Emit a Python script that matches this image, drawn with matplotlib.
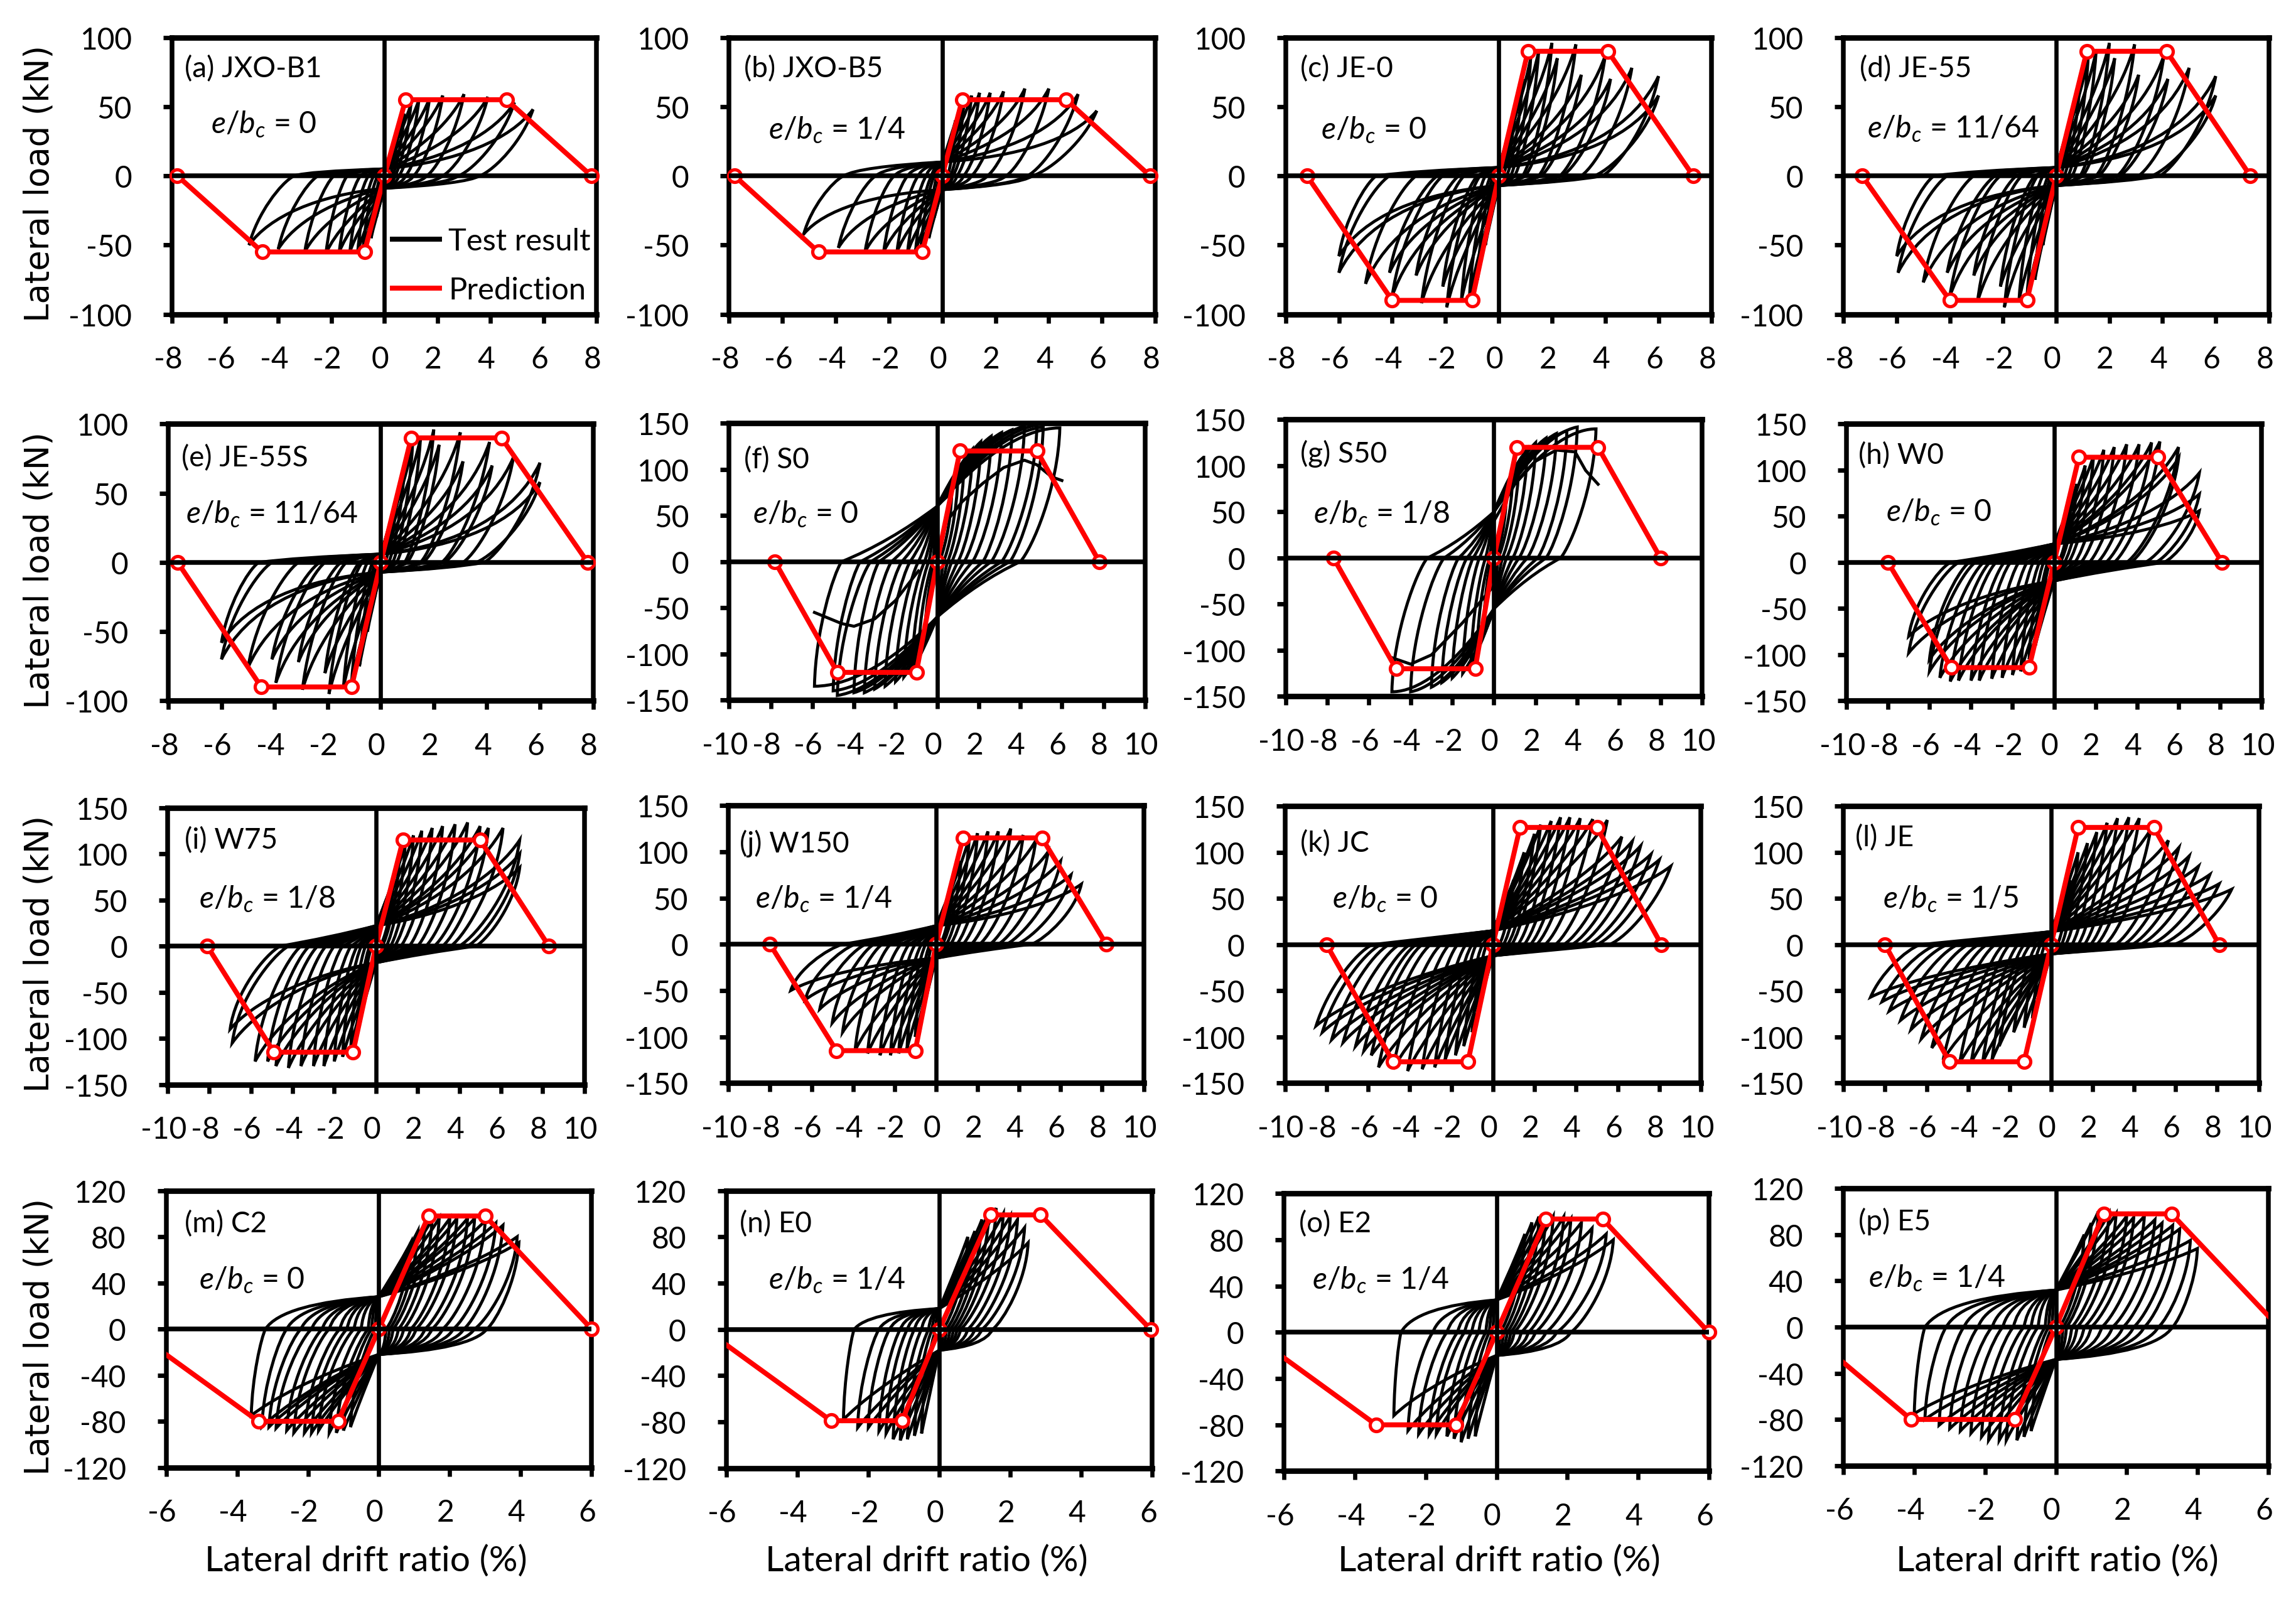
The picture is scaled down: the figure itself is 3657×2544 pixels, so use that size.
import matplotlib
matplotlib.use('Agg')
import matplotlib.pyplot as plt
from matplotlib.path import Path
from matplotlib.patches import PathPatch
from matplotlib.lines import Line2D
from matplotlib.transforms import ScaledTranslation

plt.rcParams['font.family'] = ['Lato', 'DejaVu Sans']
plt.rcParams['mathtext.fontset'] = 'custom'
plt.rcParams['mathtext.rm'] = 'Lato'
plt.rcParams['mathtext.it'] = 'Lato:italic'
plt.rcParams['axes.unicode_minus'] = False

titles = ['(a) JXO-B1', '(b) JXO-B5', '(c) JE-0', '(d) JE-55', '(e) JE-55S', '(f) S0', '(g) S50', '(h) W0',
          '(i) W75', '(j) W150', '(k) JC', '(l) JE', '(m) C2', '(n) E0', '(o) E2', '(p) E5']
ratios = ['0', '1/4', '0', '11/64', '11/64', '0', '1/8', '0', '1/8', '1/4', '0', '1/5', '0', '1/4', '1/4', '1/4']

xticks_8 = [-8, -6, -4, -2, 0, 2, 4, 6, 8]
xticks_10 = [-10, -8, -6, -4, -2, 0, 2, 4, 6, 8, 10]
xticks_6 = [-6, -4, -2, 0, 2, 4, 6]
yticks_100 = [-100, -50, 0, 50, 100]
yticks_150 = [-150, -100, -50, 0, 50, 100, 150]
yticks_120 = [-120, -80, -40, 0, 40, 80, 120]

# prediction polylines
a_pred_x = [-7.8, -4.6, -0.75, 0, 0.8, 4.6, 7.8]
a_pred_y = [0, -55, -55, 0, 55, 55, 0]
b_pred_x = [-7.8, -4.65, -0.75, 0, 0.75, 4.65, 7.8]
b_pred_y = [0, -55, -55, 0, 55, 55, 0]
c_pred_x = [-7.2, -4.0, -1.0, 0, 1.1, 4.1, 7.3]
c_pred_y = [0, -90, -90, 0, 90, 90, 0]
d_pred_x = [-7.3, -4.0, -1.1, 0, 1.15, 4.15, 7.3]
d_pred_y = [0, -90, -90, 0, 90, 90, 0]
e_pred_x = [-7.65, -4.5, -1.1, 0, 1.15, 4.55, 7.8]
e_pred_y = [0, -90, -90, 0, 90, 90, 0]
f_pred_x = [-7.8, -4.8, -1.0, 0, 1.1, 4.8, 7.8]
f_pred_y = [0, -120, -120, 0, 120, 120, 0]
g_pred_x = [-7.7, -4.7, -0.9, 0, 1.1, 5.0, 8.0]
g_pred_y = [0, -120, -120, 0, 120, 120, 0]
h_pred_x = [-8.0, -4.95, -1.2, 0, 1.2, 5.0, 8.1]
h_pred_y = [0, -114, -114, 0, 114, 114, 0]
i_pred_x = [-8.1, -4.9, -1.1, 0, 1.3, 5.0, 8.3]
i_pred_y = [0, -115, -115, 0, 115, 115, 0]
j_pred_x = [-8.0, -4.8, -1.0, 0, 1.3, 5.1, 8.2]
j_pred_y = [0, -115, -115, 0, 115, 115, 0]
k_pred_x = [-8.0, -4.8, -1.2, 0, 1.3, 5.0, 8.1]
k_pred_y = [0, -127, -127, 0, 127, 127, 0]
l_pred_x = [-8.0, -4.9, -1.3, 0, 1.3, 4.95, 8.1]
l_pred_y = [0, -127, -127, 0, 127, 127, 0]
m_pred_x = [-7.0, -3.4, -1.15, 0, 1.4, 3.0, 6.0]
m_pred_y = [0, -80, -80, 0, 98, 98, 0]
n_pred_x = [-6.6, -3.05, -1.05, 0, 1.45, 2.85, 5.95]
n_pred_y = [0, -79, -79, 0, 99, 99, 0]
o_pred_x = [-7.0, -3.4, -1.15, 0, 1.4, 3.0, 6.0]
o_pred_y = [0, -80, -80, 0, 98, 98, 0]
p_pred_x = [-7.2, -4.09, -1.17, 0, 1.35, 3.27, 6.3]
p_pred_y = [0, -80, -80, 0, 98, 98, 0]

# test loops: peak drift, peak load, drift where the load comes back to zero
a_pos_d = [0.5, 0.75, 1.0, 1.3, 1.7, 2.2, 3.0, 3.9, 4.9, 5.6]
a_pos_f = [30, 45, 52, 55, 56, 58, 59, 57, 53, 48]
a_pos_r = [0.2, 0.3, 0.4, 0.55, 0.8, 1.1, 1.6, 2.2, 2.8, 3.6]
a_neg_d = [-0.3, -0.5, -0.8, -1.0, -1.3, -1.7, -2.2, -3.0, -4.0, -5.1]
a_neg_f = [-30, -45, -52, -54, -55, -55, -56, -55, -53, -50]
a_neg_r = [-0.1, -0.15, -0.25, -0.4, -0.6, -0.9, -1.4, -1.9, -2.5, -3.4]

b_pos_d = [0.5, 0.8, 1.1, 1.4, 1.8, 2.3, 3.1, 4.0, 5.1, 5.8]
b_pos_f = [40, 50, 58, 60, 60, 61, 63, 63, 59, 47]
b_pos_r = [0.2, 0.3, 0.4, 0.55, 0.8, 1.1, 1.7, 2.4, 3.2, 3.4]
b_neg_d = [-0.3, -0.5, -0.8, -1.0, -1.3, -1.7, -2.2, -2.9, -3.9, -5.2]
b_neg_f = [-30, -45, -52, -54, -55, -55, -55, -55, -52, -42]
b_neg_r = [-0.1, -0.2, -0.3, -0.4, -0.6, -0.9, -1.3, -1.8, -2.5, -3.7]

c_pos_d = [0.6, 0.9, 1.2, 1.5, 2.0, 2.2, 2.9, 3.1, 4.0, 4.2, 5.0, 6.0, 6.0]
c_pos_f = [45, 70, 85, 90, 96, 85, 95, 73, 87, 70, 78, 72, 58]
c_pos_r = [0.15, 0.3, 0.45, 0.6, 0.9, 1.0, 1.5, 1.6, 2.3, 2.4, 3.1, 3.9, 3.6]
c_neg_d = [-0.5, -0.8, -1.1, -1.4, -1.95, -2.1, -2.9, -3.1, -4.0, -4.1, -5.0, -6.0, -6.0]
c_neg_f = [-50, -75, -88, -90, -95, -80, -92, -72, -87, -70, -78, -70, -58]
c_neg_r = [-0.1, -0.2, -0.3, -0.5, -0.7, -0.8, -1.3, -1.5, -2.1, -2.3, -3.1, -4.1, -4.6]

d_pos_d = [0.6, 0.9, 1.2, 1.5, 2.0, 2.2, 2.95, 3.1, 4.05, 4.2, 5.0, 6.0, 6.0]
d_pos_f = [45, 70, 85, 90, 96, 85, 95, 73, 87, 70, 78, 72, 58]
d_pos_r = [0.15, 0.3, 0.45, 0.6, 0.9, 1.0, 1.5, 1.6, 2.3, 2.4, 3.1, 3.9, 3.6]
d_neg_d = [-0.5, -0.8, -1.1, -1.4, -1.95, -2.1, -2.96, -3.1, -4.0, -4.1, -5.0, -5.95, -6.0]
d_neg_f = [-50, -75, -88, -90, -95, -80, -91, -72, -87, -70, -77, -70, -58]
d_neg_r = [-0.1, -0.2, -0.3, -0.5, -0.7, -0.8, -1.3, -1.5, -2.1, -2.3, -3.1, -4.1, -4.6]

e_pos_d = [0.6, 0.9, 1.2, 1.5, 2.0, 2.2, 3.0, 3.1, 4.1, 4.2, 5.0, 6.0, 6.0]
e_pos_f = [45, 70, 85, 90, 96, 85, 94, 73, 87, 70, 76, 72, 58]
e_pos_r = [0.15, 0.3, 0.45, 0.6, 0.9, 1.0, 1.5, 1.6, 2.3, 2.4, 3.1, 3.9, 3.6]
e_neg_d = [-0.5, -0.8, -1.1, -1.4, -1.95, -2.1, -2.95, -3.1, -3.95, -4.1, -5.0, -6.0, -6.0]
e_neg_f = [-50, -75, -88, -90, -95, -80, -92, -72, -87, -70, -76, -70, -58]
e_neg_r = [-0.1, -0.2, -0.3, -0.5, -0.7, -0.8, -1.3, -1.5, -2.1, -2.3, -3.1, -4.1, -4.6]

f_pos_d = [0.7, 1.0, 1.3, 1.7, 2.1, 2.6, 3.1, 3.6, 4.2, 4.8, 5.1, 5.9]
f_pos_f = [75, 95, 110, 122, 130, 136, 140, 143, 147, 148, 146, 145]
f_pos_r = [0.1, 0.3, 0.5, 0.7, 1.0, 1.3, 1.7, 2.2, 2.6, 3.1, 3.5, 4.0]
f_neg_d = [-0.6, -0.9, -1.2, -1.6, -2.0, -2.5, -3.0, -3.5, -4.0, -4.8, -5.0, -5.9]
f_neg_f = [-85, -105, -115, -125, -130, -135, -138, -142, -142, -145, -140, -135]
f_neg_r = [-0.1, -0.2, -0.4, -0.6, -0.9, -1.3, -1.7, -2.2, -2.8, -3.2, -3.7, -4.6]
f_last_x = [-0.9, -2.0, -3.0, -4.0, -4.6, -5.9]
f_last_y = [-10, -42, -62, -70, -67, -55]
f_last2_x = [0.5, 1.2, 2.2, 3.2, 4.2, 4.8, 5.5, 6.0]
f_last2_y = [45, 65, 85, 102, 110, 105, 92, 88]

g_pos_d = [0.6, 0.9, 1.2, 1.6, 2.0, 2.5, 3.0, 3.5, 4.0, 4.9]
g_pos_f = [70, 90, 105, 118, 125, 130, 135, 138, 142, 140]
g_pos_r = [0.1, 0.2, 0.4, 0.6, 0.9, 1.2, 1.6, 2.1, 2.5, 3.2]
g_neg_d = [-0.5, -0.8, -1.1, -1.5, -2.0, -2.5, -3.0, -4.0, -4.9]
g_neg_f = [-80, -100, -115, -125, -130, -135, -140, -145, -145]
g_neg_r = [-0.1, -0.2, -0.4, -0.7, -1.0, -1.3, -1.7, -2.4, -3.2]
g_last_x = [0, -1.5, -3.0, -4.0, -4.9]
g_last_y = [-30, -70, -105, -115, -108]
g_last2_x = [0, 1.0, 2.0, 3.0, 3.9, 4.4, 5.0]
g_last2_y = [40, 80, 105, 117, 115, 95, 80]

h_pos_d = [0.8, 1.1, 1.5, 1.9, 2.4, 2.9, 3.5, 4.1, 4.7, 5.1, 6.0, 6.0, 7.0, 7.0, 7.0]
h_pos_f = [60, 85, 105, 115, 122, 125, 128, 128, 130, 131, 125, 113, 97, 74, 56]
h_pos_r = [0.2, 0.3, 0.5, 0.7, 1.0, 1.3, 1.7, 2.1, 2.5, 2.9, 3.5, 3.7, 4.4, 4.9, 5.3]
h_neg_d = [-0.6, -0.9, -1.2, -1.6, -2.0, -2.5, -3.0, -3.6, -4.0, -4.6, -5.0, -5.5, -6.0, -6.0, -7.0, -7.0]
h_neg_f = [-60, -90, -105, -118, -122, -125, -126, -128, -128, -128, -129, -125, -118, -105, -98, -80]
h_neg_r = [-0.2, -0.3, -0.5, -0.7, -1.0, -1.3, -1.7, -2.1, -2.4, -2.8, -3.1, -3.4, -3.8, -4.1, -4.6, -5.0]

i_pos_d = [0.8, 1.1, 1.4, 1.8, 2.2, 2.7, 3.2, 3.8, 4.4, 5.0, 5.4, 6.1, 6.9, 6.9, 6.9]
i_pos_f = [60, 90, 110, 120, 125, 128, 130, 132, 134, 130, 128, 128, 115, 100, 85]
i_pos_r = [0.2, 0.3, 0.5, 0.7, 0.9, 1.2, 1.6, 2.0, 2.4, 2.8, 3.2, 3.6, 4.0, 4.4, 4.8]
i_neg_d = [-0.6, -0.9, -1.2, -1.6, -2.0, -2.5, -3.0, -3.6, -4.2, -4.8, -5.2, -5.8, -6.9, -7.0]
i_neg_f = [-60, -90, -108, -120, -125, -130, -130, -130, -132, -130, -125, -125, -105, -90]
i_neg_r = [-0.2, -0.3, -0.5, -0.7, -0.9, -1.2, -1.6, -2.0, -2.4, -2.8, -3.2, -3.6, -4.2, -4.6]

j_pos_d = [0.8, 1.2, 1.6, 2.0, 2.5, 3.0, 3.6, 4.2, 4.8, 5.4, 6.0, 6.5, 7.0]
j_pos_f = [60, 90, 115, 120, 122, 122, 125, 118, 112, 100, 90, 75, 65]
j_pos_r = [0.2, 0.3, 0.5, 0.7, 1.0, 1.3, 1.7, 2.1, 2.6, 3.0, 3.4, 3.9, 4.6]
j_neg_d = [-0.6, -1.0, -1.4, -1.8, -2.2, -2.7, -3.3, -3.9, -4.5, -5.0, -5.6, -6.3, -7.0]
j_neg_f = [-70, -100, -113, -118, -120, -120, -118, -115, -95, -85, -70, -60, -50]
j_neg_r = [-0.2, -0.3, -0.5, -0.7, -1.0, -1.3, -1.7, -2.2, -2.6, -3.0, -3.4, -3.9, -4.5]

k_pos_d = [1.0, 1.5, 2.0, 2.3, 2.8, 3.25, 3.7, 4.2, 4.8, 5.5, 6.2, 6.7, 7.1, 7.6, 8.0, 8.55]
k_pos_f = [70, 100, 120, 130, 134, 138, 138, 137, 136, 135, 117, 112, 107, 98, 92, 85]
k_pos_r = [0.3, 0.5, 0.7, 0.9, 1.2, 1.5, 1.8, 2.1, 2.5, 3.0, 3.4, 3.8, 4.2, 4.6, 5.0, 5.6]
k_neg_d = [-1.0, -1.4, -1.8, -2.3, -2.8, -3.4, -4.1, -4.8, -5.5, -5.85, -6.2, -6.6, -7.2, -7.75, -8.2, -8.5]
k_neg_f = [-95, -110, -120, -125, -133, -135, -137, -135, -133, -120, -115, -110, -106, -103, -95, -88]
k_neg_r = [-0.3, -0.5, -0.8, -1.0, -1.3, -1.7, -2.1, -2.5, -3.0, -3.4, -3.7, -4.0, -4.5, -5.0, -5.4, -5.8]

l_pos_d = [0.9, 1.3, 1.75, 2.2, 2.7, 3.2, 3.75, 4.25, 4.8, 5.65, 6.15, 6.65, 7.1, 7.65, 8.1, 8.7]
l_pos_f = [70, 100, 110, 122, 132, 137, 138, 137, 125, 113, 105, 96, 85, 76, 66, 60]
l_pos_r = [0.3, 0.5, 0.7, 1.0, 1.3, 1.6, 1.9, 2.2, 2.6, 3.1, 3.5, 3.9, 4.3, 4.8, 5.3, 5.9]
l_neg_d = [-0.9, -1.3, -1.8, -2.5, -2.85, -3.3, -3.85, -4.4, -5.2, -5.75, -6.25, -6.75, -7.25, -7.8, -8.15, -8.7]
l_neg_f = [-80, -90, -95, -110, -125, -128, -128, -128, -125, -112, -102, -92, -82, -72, -62, -57]
l_neg_r = [-0.3, -0.5, -0.7, -1.0, -1.3, -1.6, -2.0, -2.3, -2.7, -3.1, -3.5, -4.0, -4.5, -5.0, -5.5, -6.3]

m_pos_d = [0.9, 1.1, 1.3, 1.5, 1.7, 2.0, 2.2, 2.5, 2.7, 3.0, 3.3, 3.5, 3.9, 3.95]
m_pos_f = [75, 85, 92, 95, 96, 96, 96, 96, 96, 94, 92, 90, 80, 75]
m_pos_r = [0.2, 0.3, 0.4, 0.55, 0.7, 0.9, 1.05, 1.3, 1.5, 1.8, 2.1, 2.4, 2.7, 3.05]
m_neg_d = [-0.8, -1.0, -1.2, -1.4, -1.7, -1.9, -2.1, -2.4, -2.6, -2.9, -3.1, -3.3, -3.6]
m_neg_f = [-85, -88, -90, -90, -88, -90, -90, -90, -88, -86, -85, -85, -75]
m_neg_r = [-0.1, -0.2, -0.3, -0.5, -0.7, -0.9, -1.1, -1.4, -1.6, -1.9, -2.2, -2.6, -3.2]

n_pos_d = [0.8, 1.0, 1.2, 1.4, 1.6, 1.8, 2.0, 2.2, 2.4, 2.5]
n_pos_f = [80, 85, 95, 102, 105, 100, 98, 95, 88, 75]
n_pos_r = [0.1, 0.2, 0.3, 0.4, 0.5, 0.6, 0.8, 1.0, 1.2, 1.5]
n_neg_d = [-0.5, -0.7, -0.9, -1.1, -1.3, -1.5, -1.7, -2.0, -2.3, -2.7]
n_neg_f = [-90, -92, -95, -96, -95, -90, -88, -85, -85, -78]
n_neg_r = [-0.1, -0.2, -0.3, -0.5, -0.7, -0.9, -1.1, -1.4, -1.7, -2.4]

o_pos_d = [0.8, 1.0, 1.2, 1.4, 1.6, 1.9, 2.1, 2.4, 2.7, 3.1, 3.3]
o_pos_f = [85, 95, 100, 102, 100, 100, 98, 95, 90, 85, 80]
o_pos_r = [0.1, 0.2, 0.3, 0.4, 0.5, 0.7, 0.9, 1.1, 1.4, 1.7, 2.1]
o_neg_d = [-0.6, -0.8, -1.0, -1.2, -1.4, -1.7, -1.9, -2.2, -2.5, -2.9]
o_neg_f = [-90, -92, -95, -92, -90, -88, -88, -88, -85, -72]
o_neg_r = [-0.1, -0.2, -0.3, -0.5, -0.7, -0.9, -1.1, -1.4, -1.8, -2.7]

p_pos_d = [0.8, 1.0, 1.2, 1.5, 1.7, 2.0, 2.2, 2.5, 2.8, 3.0, 3.3, 3.5, 3.8, 4.0]
p_pos_f = [80, 90, 100, 98, 98, 96, 95, 96, 93, 90, 88, 85, 75, 68]
p_pos_r = [0.1, 0.2, 0.3, 0.45, 0.6, 0.8, 1.0, 1.3, 1.6, 1.9, 2.2, 2.5, 2.9, 3.3]
p_neg_d = [-0.7, -0.9, -1.1, -1.4, -1.6, -1.9, -2.1, -2.4, -2.7, -3.0, -3.3, -3.7, -4.0]
p_neg_f = [-90, -95, -98, -98, -98, -98, -95, -92, -90, -88, -85, -80, -75]
p_neg_r = [-0.1, -0.2, -0.3, -0.5, -0.7, -0.9, -1.2, -1.5, -1.8, -2.2, -2.6, -3.1, -3.7]

# load at zero drift on the way back (pinching), per panel
pinch_pos = [5, 10, 6, 6, 6, 60, 50, 20, 22, 20, 15, 14, 28, 18, 28, 32]
pinch_neg = [-9, -10, -7, -7, -7, -60, -55, -20, -18, -15, -12, -10, -22, -18, -20, -28]

pred_x = [a_pred_x, b_pred_x, c_pred_x, d_pred_x, e_pred_x, f_pred_x, g_pred_x, h_pred_x,
          i_pred_x, j_pred_x, k_pred_x, l_pred_x, m_pred_x, n_pred_x, o_pred_x, p_pred_x]
pred_y = [a_pred_y, b_pred_y, c_pred_y, d_pred_y, e_pred_y, f_pred_y, g_pred_y, h_pred_y,
          i_pred_y, j_pred_y, k_pred_y, l_pred_y, m_pred_y, n_pred_y, o_pred_y, p_pred_y]
pos_loops = [(a_pos_d, a_pos_f, a_pos_r), (b_pos_d, b_pos_f, b_pos_r), (c_pos_d, c_pos_f, c_pos_r), (d_pos_d, d_pos_f, d_pos_r),
             (e_pos_d, e_pos_f, e_pos_r), (f_pos_d, f_pos_f, f_pos_r), (g_pos_d, g_pos_f, g_pos_r), (h_pos_d, h_pos_f, h_pos_r),
             (i_pos_d, i_pos_f, i_pos_r), (j_pos_d, j_pos_f, j_pos_r), (k_pos_d, k_pos_f, k_pos_r), (l_pos_d, l_pos_f, l_pos_r),
             (m_pos_d, m_pos_f, m_pos_r), (n_pos_d, n_pos_f, n_pos_r), (o_pos_d, o_pos_f, o_pos_r), (p_pos_d, p_pos_f, p_pos_r)]
neg_loops = [(a_neg_d, a_neg_f, a_neg_r), (b_neg_d, b_neg_f, b_neg_r), (c_neg_d, c_neg_f, c_neg_r), (d_neg_d, d_neg_f, d_neg_r),
             (e_neg_d, e_neg_f, e_neg_r), (f_neg_d, f_neg_f, f_neg_r), (g_neg_d, g_neg_f, g_neg_r), (h_neg_d, h_neg_f, h_neg_r),
             (i_neg_d, i_neg_f, i_neg_r), (j_neg_d, j_neg_f, j_neg_r), (k_neg_d, k_neg_f, k_neg_r), (l_neg_d, l_neg_f, l_neg_r),
             (m_neg_d, m_neg_f, m_neg_r), (n_neg_d, n_neg_f, n_neg_r), (o_neg_d, o_neg_f, o_neg_r), (p_neg_d, p_neg_f, p_neg_r)]
x_ticks = [xticks_8] * 5 + [xticks_10] * 7 + [xticks_6] * 4
y_ticks = [yticks_100] * 5 + [yticks_150] * 7 + [yticks_120] * 4

# curve shape controls per panel (0.5 / 0.85 is a straight reload)
reload_c1 = [0.12, 0.1, 0.1, 0.1, 0.1, 0.9, 0.9, 0.2, 0.2, 0.2, 0.3, 0.3, 0.35, 0.4, 0.35, 0.35]
reload_c2 = [0.5, 0.45, 0.45, 0.45, 0.45, 1.0, 1.0, 0.62, 0.62, 0.62, 0.68, 0.68, 0.75, 0.78, 0.75, 0.75]
unload_k = [0.18, 0.18, 0.15, 0.15, 0.15, 0.04, 0.04, 0.12, 0.1, 0.12, 0.2, 0.2, 0.06, 0.05, 0.05, 0.06]
tail_kx = [0.85, 0.85, 0.7, 0.7, 0.7, 0.5, 0.5, 0.5, 0.5, 0.5, 0.5, 0.5, 0.85, 0.85, 0.85, 0.85]
tail_ky = [0.65, 0.65, 0.6, 0.6, 0.6, 0.35, 0.35, 0.4, 0.4, 0.4, 0.5, 0.5, 0.8, 0.8, 0.8, 0.8]

# layout, in pixels of a 1568 wide view of the figure
W, H = 1568.0, 1091.0
boxes = [(117.5, 407.5, 26, 215), (498, 789, 26, 215), (878, 1169, 26, 215), (1259, 1549.5, 26, 215),
         (115, 405, 290, 479), (498, 782, 289.5, 478.5), (878, 1162.5, 287, 476), (1261, 1544.5, 290, 479),
         (114.5, 399, 552, 741), (497.5, 781, 550.5, 740), (877.5, 1161.6, 551, 740), (1259, 1542.5, 551, 740),
         (113.5, 404, 813.5, 1002.5), (496, 787, 813.5, 1003), (877, 1167, 815.5, 1005), (1259, 1549, 812, 1001.3)]
title_xy = [(126, 47), (508, 47), (888, 47), (1270, 47), (124, 313), (508, 314), (888, 310), (1269, 311),
            (126, 574), (505, 576), (888, 576), (1267, 572), (126, 836), (505, 836), (887, 836), (1269, 834)]
ratio_xy = [(144, 85), (525, 89), (902, 89), (1275, 88), (127, 351), (514, 351), (897, 351), (1288, 350),
            (136, 614), (516, 614), (910, 614), (1286, 614), (136, 874), (525, 874), (896, 874), (1276, 873)]
xlabel_x = [250, 633, 1024, 1405]
FS = 11.5


def half_cycle(ax, d, f, r, start, end, c1, c2, u, kx, ky, dmax):
    # small cycles reload nearly straight, large ones sag towards the panel's c1/c2
    w = abs(d) / dmax
    c1 = 0.5 + (c1 - 0.5) * w
    c2 = 0.85 + (c2 - 0.85) * w
    verts = [(0, start),
             (d * 0.5, start + c1 * (f - start)), (d * 0.85, start + c2 * (f - start)), (d, f),
             (d - (d - r) * u, f * 0.55), (r + (d - r) * 0.3, f * 0.1), (r, 0),
             (r * kx, end * ky), (0, end)]
    codes = [Path.MOVETO] + [Path.CURVE4] * 6 + [Path.CURVE3] * 2
    ax.add_patch(PathPatch(Path(verts, codes), fc='none', ec='k', lw=1.15, zorder=2))


fig = plt.figure(figsize=(3657 / 300, 2545 / 300), dpi=300)
label_shift = ScaledTranslation(-1.6 / 72, 0, fig.dpi_scale_trans)

for i in range(16):
    x0, x1, y0, y1 = boxes[i]
    ax = fig.add_axes([x0 / W, 1 - y1 / H, (x1 - x0) / W, (y1 - y0) / H])
    ax.set_xlim(x_ticks[i][0], x_ticks[i][-1])
    ax.set_ylim(y_ticks[i][0], y_ticks[i][-1])
    ax.set_xticks(x_ticks[i], [str(t) for t in x_ticks[i]])
    ax.set_yticks(y_ticks[i], [str(t) for t in y_ticks[i]])
    ax.tick_params(axis='x', length=3.4, width=1.6, pad=8.5, labelsize=FS)
    ax.tick_params(axis='y', length=3.4, width=1.7, pad=12, labelsize=FS)
    for lab in ax.get_xticklabels():
        lab.set_transform(lab.get_transform() + label_shift)
    for s in ['left', 'right']:
        ax.spines[s].set_linewidth(1.8)
    for s in ['top', 'bottom']:
        ax.spines[s].set_linewidth(2.1)

    for d, f, r in zip(*pos_loops[i]):
        half_cycle(ax, d, f, r, pinch_pos[i], pinch_neg[i], reload_c1[i], reload_c2[i], unload_k[i],
                   tail_kx[i], tail_ky[i], max(pos_loops[i][0]))
    for d, f, r in zip(*neg_loops[i]):
        half_cycle(ax, d, f, r, pinch_neg[i], pinch_pos[i], reload_c1[i], reload_c2[i], unload_k[i],
                   tail_kx[i], tail_ky[i], -min(neg_loops[i][0]))
    if i == 5:
        ax.plot(f_last_x, f_last_y, color='k', lw=1.15, zorder=2)
        ax.plot(f_last2_x, f_last2_y, color='k', lw=1.15, zorder=2)
    if i == 6:
        ax.plot(g_last_x, g_last_y, color='k', lw=1.15, zorder=2)
        ax.plot(g_last2_x, g_last2_y, color='k', lw=1.15, zorder=2)

    ax.plot(pred_x[i], pred_y[i], color='#ff0000', lw=1.9, zorder=3)
    # markers are not clipped at the box, but points past the limits are left out
    mx = [v for v in pred_x[i] if abs(v) <= x_ticks[i][-1]]
    my = [w for v, w in zip(pred_x[i], pred_y[i]) if abs(v) <= x_ticks[i][-1]]
    ax.plot(mx, my, ls='none', marker='o', ms=4.8, mfc='white', mec='#ff0000', mew=1.25, zorder=4, clip_on=False)

    ax.axhline(0, color='k', lw=1.8, zorder=5)
    ax.axvline(0, color='k', lw=1.6, zorder=5)

    fig.text(title_xy[i][0] / W, 1 - title_xy[i][1] / H, titles[i], fontsize=11, va='center', ha='left')
    fig.text(ratio_xy[i][0] / W, 1 - ratio_xy[i][1] / H, '$e/b_c$ = ' + ratios[i], fontsize=11.6, va='center', ha='left')

    if i % 4 == 0:
        fig.text(27 / W, 1 - ((y0 + y1) / 2 + 5) / H, 'Lateral load (kN)', rotation=90, fontsize=12.7,
                 family='DejaVu Sans', va='center', ha='center')
    if i >= 12:
        fig.text(xlabel_x[i - 12] / W, 1 - 1066 / H, 'Lateral drift ratio (%)', fontsize=13.7, va='center', ha='center')

    if i == 0:
        handles = [Line2D([], [], color='k', lw=1.9), Line2D([], [], color='#ff0000', lw=1.9)]
        ax.legend(handles, ['Test result', 'Prediction'], frameon=False, fontsize=11.7, loc='center',
                  bbox_to_anchor=(0.752, 0.175), borderpad=0, handlelength=1.54, handletextpad=0.3, labelspacing=0.7)

fig.savefig('out.png', dpi=300)
